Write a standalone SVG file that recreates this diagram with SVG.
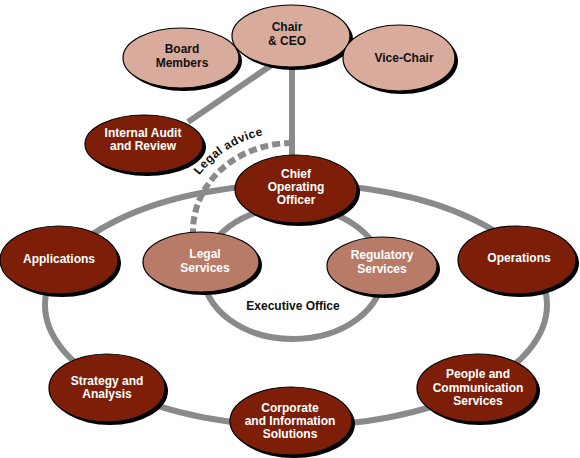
<svg xmlns="http://www.w3.org/2000/svg" width="580" height="458" viewBox="0 0 580 458">
<defs>
<style>
.sh{fill:#000}
.dk{fill:#7d1f08;stroke:#000;stroke-width:1.2}
.lt{fill:#d9ab9c;stroke:#000;stroke-width:1.2}
.md{fill:#b87b67;stroke:#000;stroke-width:1.2}
text{font-family:"Liberation Sans",Arial,sans-serif;font-weight:bold;font-size:12px;text-anchor:middle}
.w{fill:#fff}
.b{fill:#111}
.ln{fill:none;stroke:#8a8a8a;stroke-width:6}
.dash{fill:none;stroke:#8a8a8a;stroke-width:6;stroke-dasharray:8 4}
</style>
<path id="legalPath" d="M180,232 A110,100 0 0 1 290,132"/>
</defs>
<rect width="580" height="458" fill="#fff"/>
<g id="connectors">
<ellipse class="ln" cx="296" cy="305" rx="251" ry="121"/>
<ellipse class="ln" cx="293" cy="273" rx="90" ry="66"/>
<line class="ln" x1="276" y1="62" x2="188" y2="122"/>
<line class="ln" x1="292" y1="60" x2="292" y2="160"/>
<path class="dash" d="M292,143 A99,88 0 0 0 193,232"/>
<text class="b" style="letter-spacing:0.4px"><textPath href="#legalPath" startOffset="61" style="text-anchor:start">Legal advice</textPath></text>
</g>
<g id="board"><ellipse class="sh" cx="184" cy="61" rx="58" ry="30"/><ellipse class="lt" cx="181" cy="58" rx="58" ry="30"/><text class="b" x="182" y="53">Board</text><text class="b" x="182" y="67">Members</text></g>
<g id="chair"><ellipse class="sh" cx="294" cy="39" rx="59" ry="31"/><ellipse class="lt" cx="291" cy="36" rx="59" ry="31"/><text class="b" x="287" y="31">Chair</text><text class="b" x="287" y="45">&amp; CEO</text></g>
<g id="vicechair"><ellipse class="sh" cx="402" cy="61" rx="56" ry="33"/><ellipse class="lt" cx="399" cy="58" rx="56" ry="33"/><text class="b" x="404" y="62">Vice-Chair</text></g>
<g id="audit"><ellipse class="sh" cx="147" cy="147" rx="59" ry="29"/><ellipse class="dk" cx="144" cy="144" rx="59" ry="29"/><text class="w" x="143" y="137">Internal Audit</text><text class="w" x="143" y="150">and Review</text></g>
<g id="coo"><ellipse class="sh" cx="299" cy="192" rx="61" ry="34"/><ellipse class="dk" cx="296" cy="189" rx="61" ry="34"/><text class="w" x="296" y="178">Chief</text><text class="w" x="296" y="191">Operating</text><text class="w" x="296" y="204">Officer</text></g>
<g id="applications"><ellipse class="sh" cx="62" cy="263" rx="59" ry="34"/><ellipse class="dk" cx="59" cy="260" rx="59" ry="34"/><text class="w" x="59" y="263">Applications</text></g>
<g id="legal"><ellipse class="sh" cx="204" cy="265" rx="58" ry="30"/><ellipse class="md" cx="201" cy="262" rx="58" ry="30"/><text class="w" x="205" y="258">Legal</text><text class="w" x="205" y="272">Services</text></g>
<g id="regulatory"><ellipse class="sh" cx="385" cy="269" rx="55" ry="29"/><ellipse class="md" cx="382" cy="266" rx="55" ry="29"/><text class="w" x="382" y="259">Regulatory</text><text class="w" x="382" y="273">Services</text></g>
<g id="operations"><ellipse class="sh" cx="520" cy="263" rx="59" ry="34"/><ellipse class="dk" cx="517" cy="260" rx="59" ry="34"/><text class="w" x="519" y="262">Operations</text></g>
<g id="people"><ellipse class="sh" cx="480" cy="391" rx="60" ry="34"/><ellipse class="dk" cx="477" cy="388" rx="60" ry="34"/><text class="w" x="478" y="378">People and</text><text class="w" x="478" y="392">Communication</text><text class="w" x="478" y="405">Services</text></g>
<g id="strategy"><ellipse class="sh" cx="110" cy="391" rx="58" ry="34"/><ellipse class="dk" cx="107" cy="388" rx="58" ry="34"/><text class="w" x="107" y="385">Strategy and</text><text class="w" x="107" y="398">Analysis</text></g>
<g id="corporate"><ellipse class="sh" cx="294" cy="424" rx="61" ry="34"/><ellipse class="dk" cx="291" cy="421" rx="61" ry="34"/><text class="w" x="290" y="412">Corporate</text><text class="w" x="290" y="425">and Information</text><text class="w" x="290" y="438">Solutions</text></g>
<text class="b" x="293" y="310">Executive Office</text>
</svg>
